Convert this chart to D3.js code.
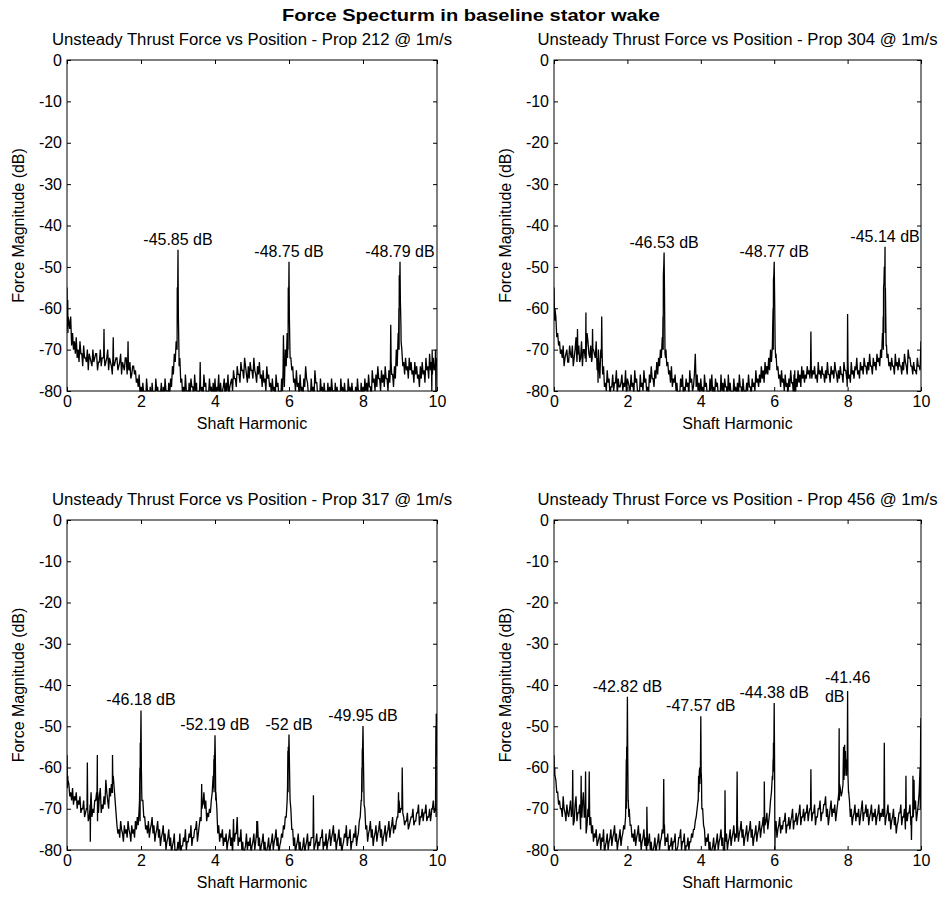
<!DOCTYPE html>
<html>
<head>
<meta charset="utf-8">
<script src="https://cdn.jsdelivr.net/npm/d3@7/dist/d3.min.js"></script>
<style>
  body { margin: 0; background: #fff; }
  text { font-family: "Liberation Sans", Arial, Helvetica, sans-serif; fill: #000; }
</style>
</head>
<body>
<svg id="chart" width="942" height="899"></svg>
<script>
// ---- chart text ----
const figureTitle = "Force Specturm in baseline stator wake";
const xLabel = "Shaft Harmonic";
const yLabel = "Force Magnitude (dB)";
const propNames = ["212", "304", "317", "456"];

// ---- axis ticks ----
const xTicks = [0, 2, 4, 6, 8, 10];
const yTicks = [0, -10, -20, -30, -40, -50, -60, -70, -80];
const xDomain = [0, 10];
const yDomain = [-80, 0];

// spectrum floor: "level" samples every 0.05 harmonic from 0 to 10,
// "mid" samples halfway between them (0.025, 0.075, ... 9.975)
const harmonicStep = 0.05;

const level212 = [
  -55,-63,-62,-66,-68,-67,-70,-68,-71,-69,-72,-70,-71,-73,-70,-72,-71,-73,-70,-72,
  -71,-73,-70,-72,-74,-71,-73,-72,-74,-71,-73,-75,-72,-74,-73,-76,-74,-75,-77,-76,
  -79,-78,-80,-77,-80,-79,-78,-80,-77,-79,-80,-78,-79,-77,-80,-78,-77,-74,-71,-68,
  -62,-72,-77,-79,-76,-80,-78,-77,-79,-76,-78,-80,-77,-79,-76,-78,-80,-77,-79,-78,
  -77,-79,-76,-78,-80,-77,-78,-76,-79,-77,-75,-77,-74,-76,-73,-75,-72,-76,-74,-73,
  -75,-72,-76,-74,-73,-76,-75,-77,-74,-76,-78,-77,-79,-76,-78,-80,-77,-75,-70,-66,
  -62,-72,-74,-77,-75,-78,-76,-79,-77,-74,-78,-80,-77,-79,-75,-78,-80,-77,-79,-78,
  -80,-78,-79,-77,-80,-78,-79,-80,-77,-79,-78,-80,-77,-79,-78,-80,-79,-77,-80,-78,
  -79,-77,-78,-76,-79,-75,-77,-76,-74,-77,-75,-76,-74,-77,-75,-73,-76,-74,-70,-66,
  -60,-70,-73,-72,-74,-72,-73,-75,-73,-74,-76,-74,-73,-75,-72,-74,-71,-73,-72,-74,
  -74
];
const mid212 = [
  -66,-65,-69,-70,-71,-72,-73,-71,-74,-72,-73,-75,-72,-74,-73,-71,-75,-73,-74,-72,
  -74,-72,-75,-73,-76,-74,-72,-75,-73,-76,-74,-72,-76,-75,-77,-74,-76,-78,-79,-81,
  -82,-81,-83,-80,-82,-84,-81,-83,-80,-82,-81,-84,-82,-80,-83,-81,-79,-76,-73,-70,
  -70,-78,-81,-82,-80,-83,-81,-79,-82,-80,-83,-81,-80,-82,-79,-83,-81,-80,-82,-81,
  -82,-80,-83,-81,-79,-82,-80,-81,-78,-80,-77,-79,-76,-78,-75,-77,-74,-78,-77,-75,
  -77,-75,-78,-76,-77,-79,-78,-80,-77,-79,-81,-80,-82,-79,-81,-83,-80,-79,-74,-70,
  -70,-75,-78,-80,-79,-81,-80,-82,-79,-77,-81,-83,-80,-82,-78,-81,-83,-80,-82,-81,
  -83,-81,-82,-80,-83,-81,-82,-84,-80,-82,-81,-83,-80,-82,-81,-83,-82,-80,-83,-81,
  -82,-80,-81,-79,-82,-78,-80,-79,-77,-80,-78,-79,-77,-80,-78,-76,-79,-77,-74,-70,
  -64,-74,-76,-75,-77,-75,-76,-78,-76,-77,-79,-77,-76,-78,-75,-77,-75,-76,-75,-77
];
const spikes212 = [
  [0.01,-65],[0.02,-58],[0.03,-62],[0.99,-72],[1.0,-65],[1.01,-72],[1.24,-72],[1.25,-67],[1.26,-73],
  [1.64,-73],[1.65,-68],[1.66,-74],[2.96,-70],[2.97,-68],[2.98,-55],[2.99,-58],[3.01,-62],[3.03,-74],
  [3.59,-78],[3.6,-73],[3.61,-79],[5.84,-75],[5.85,-66.5],[5.86,-73],[5.96,-72],[5.97,-68],[5.98,-55],
  [5.99,-60],[6.01,-62],[6.03,-72],[8.74,-74],[8.75,-64],[8.76,-73],[8.96,-70],[8.97,-60],[8.98,-52],
  [8.99,-56],[9.01,-58],[9.03,-68],[9.86,-80],[9.87,-70],[9.96,-70],[9.97,-80],[9.98,-72]
];
const peaks212 = [[3, -45.85], [6, -48.75], [9, -48.79]];

const level304 = [
  -55,-62,-66,-68,-70,-69,-72,-70,-73,-71,-69,-72,-67,-71,-73,-68,-70,-72,-66,-71,
  -69,-66,-71,-68,-72,-77,-67,-74,-78,-75,-77,-79,-76,-78,-75,-77,-79,-76,-78,-75,
  -77,-79,-76,-78,-75,-77,-80,-76,-78,-75,-77,-79,-76,-74,-77,-75,-73,-72,-70,-67,
  -62,-70,-73,-75,-74,-77,-76,-78,-80,-77,-76,-79,-77,-78,-75,-77,-79,-71,-76,-78,
  -77,-79,-76,-78,-80,-77,-76,-79,-77,-78,-80,-76,-78,-77,-79,-76,-78,-80,-77,-79,
  -78,-76,-79,-77,-80,-78,-76,-79,-77,-78,-75,-77,-76,-74,-75,-73,-74,-72,-70,-66,
  -61,-71,-74,-76,-75,-77,-76,-78,-77,-75,-78,-80,-77,-75,-76,-74,-75,-76,-74,-75,
  -73,-75,-74,-76,-73,-75,-74,-76,-75,-73,-76,-74,-75,-73,-76,-75,-74,-76,-73,-75,
  -74,-76,-73,-75,-74,-72,-75,-73,-74,-72,-74,-73,-71,-74,-72,-73,-71,-72,-70,-66,
  -58,-69,-71,-73,-72,-74,-71,-73,-72,-74,-73,-71,-74,-70,-72,-74,-73,-75,-72,-74,
  -68
];
const mid304 = [
  -60,-67,-69,-71,-72,-74,-71,-73,-69,-72,-74,-70,-73,-69,-72,-74,-70,-73,-68,-72,
  -73,-70,-72,-75,-73,-70,-76,-79,-80,-78,-81,-79,-80,-78,-81,-79,-78,-80,-79,-81,
  -78,-80,-79,-81,-78,-80,-82,-79,-80,-78,-80,-81,-78,-77,-79,-77,-76,-74,-72,-70,
  -71,-74,-76,-78,-79,-78,-80,-82,-81,-79,-81,-80,-79,-81,-78,-80,-76,-79,-80,-81,
  -80,-82,-79,-81,-82,-80,-81,-82,-79,-81,-82,-80,-81,-79,-82,-80,-81,-82,-80,-81,
  -81,-79,-82,-80,-81,-80,-79,-81,-79,-80,-78,-79,-78,-77,-78,-76,-76,-75,-73,-70,
  -69,-75,-77,-79,-78,-80,-79,-81,-79,-78,-81,-82,-79,-78,-79,-77,-78,-77,-76,-77,
  -77,-76,-77,-78,-76,-77,-76,-78,-77,-76,-78,-76,-77,-75,-78,-77,-76,-78,-75,-77,
  -77,-78,-76,-77,-75,-76,-77,-75,-76,-74,-76,-75,-74,-76,-74,-75,-73,-74,-72,-70,
  -66,-72,-74,-75,-74,-76,-74,-75,-74,-76,-75,-73,-76,-72,-74,-76,-75,-76,-74,-75
];
const spikes304 = [
  [0.01,-60],[0.02,-63],[0.63,-72],[0.64,-65],[0.66,-71],[0.86,-72],[0.87,-61],[0.88,-70],[1.04,-72],
  [1.05,-65],[1.06,-70],[1.19,-72],[1.2,-78],[1.21,-70],[1.29,-72],[1.3,-62],[1.31,-70],[2.96,-70],
  [2.97,-62],[2.98,-52],[2.99,-50],[3.01,-55],[3.02,-66],[3.04,-72],[5.95,-69],[5.96,-64],[5.97,-60],
  [5.98,-53],[5.99,-52],[6.01,-56],[6.02,-64],[6.04,-72],[6.54,-76],[6.55,-80],[6.56,-75],[6.99,-74],
  [7.0,-65.6],[7.01,-74],[7.98,-77],[7.99,-79],[8.0,-61.4],[8.01,-73],[8.96,-69],[8.97,-62],[8.98,-55],
  [8.99,-54],[9.0,-50],[9.01,-54],[9.03,-55],[9.04,-62],[9.06,-69]
];
const peaks304 = [[3, -46.53], [6, -48.77], [9.02, -45.14]];

const level317 = [
  -57,-64,-66,-65,-67,-66,-68,-67,-70,-68,-71,-69,-72,-66,-70,-68,-66,-71,-65,-69,
  -67,-63,-68,-65,-64,-62,-68,-74,-75,-73,-76,-74,-75,-73,-76,-74,-75,-73,-72,-70,
  -62,-68,-72,-74,-73,-75,-72,-74,-76,-73,-75,-77,-74,-76,-78,-75,-77,-79,-76,-80,
  -78,-76,-79,-77,-75,-78,-76,-74,-77,-75,-73,-76,-72,-70,-66,-68,-71,-70,-68,-62,
  -60,-70,-74,-76,-75,-77,-76,-78,-75,-77,-79,-76,-72,-77,-75,-78,-80,-76,-78,-77,
  -79,-76,-78,-73,-77,-79,-76,-78,-80,-77,-79,-76,-78,-75,-77,-79,-76,-74,-72,-68,
  -60,-70,-75,-77,-79,-76,-78,-80,-77,-79,-76,-78,-77,-75,-79,-76,-78,-77,-75,-78,
  -76,-78,-75,-77,-74,-76,-78,-75,-77,-79,-76,-74,-77,-75,-78,-76,-74,-77,-73,-68,
  -60,-70,-74,-76,-73,-75,-77,-74,-76,-73,-75,-77,-74,-76,-73,-75,-72,-74,-73,-70,
  -71,-66,-72,-73,-71,-74,-72,-70,-73,-71,-69,-72,-70,-71,-69,-72,-70,-71,-68,-70,
  -47
];
const mid317 = [
  -63,-67,-68,-69,-68,-70,-69,-71,-70,-72,-70,-73,-69,-72,-71,-68,-73,-67,-71,-70,
  -69,-66,-70,-67,-66,-65,-71,-76,-77,-75,-78,-76,-77,-75,-78,-76,-77,-75,-74,-73,
  -68,-72,-75,-76,-77,-74,-76,-78,-75,-77,-79,-76,-78,-80,-77,-79,-81,-78,-82,-80,
  -80,-81,-79,-78,-80,-78,-77,-79,-77,-75,-78,-74,-73,-69,-70,-73,-72,-71,-66,-66,
  -66,-76,-78,-77,-79,-78,-80,-77,-79,-81,-78,-76,-79,-78,-80,-82,-79,-80,-79,-81,
  -78,-80,-76,-79,-81,-78,-80,-82,-79,-81,-78,-80,-77,-79,-81,-78,-77,-75,-72,-66,
  -66,-75,-79,-81,-78,-80,-82,-79,-81,-78,-80,-79,-77,-80,-78,-80,-79,-77,-80,-79,
  -80,-77,-79,-76,-78,-80,-77,-79,-81,-78,-77,-79,-77,-80,-78,-77,-79,-76,-72,-66,
  -66,-75,-78,-75,-77,-79,-76,-78,-75,-77,-79,-76,-78,-75,-77,-74,-76,-75,-72,-68,
  -70,-71,-74,-73,-75,-73,-72,-74,-73,-71,-74,-72,-73,-71,-73,-72,-73,-70,-71,-72
];
const spikes317 = [
  [0.01,-65],[0.02,-62],[0.54,-70],[0.55,-58.8],[0.56,-70],[0.62,-70],[0.63,-78],[0.64,-68],[0.81,-68],
  [0.82,-57],[0.83,-66],[1.22,-66],[1.23,-57],[1.24,-64],[1.96,-68],[1.97,-60],[1.98,-54],[1.99,-55],
  [2.01,-60],[2.02,-66],[3.63,-70],[3.64,-64],[3.66,-69],[3.96,-65],[3.97,-58],[3.98,-57],[3.99,-58],
  [4.01,-58],[4.02,-68],[4.49,-76],[4.5,-72.5],[4.51,-76],[5.12,-76],[5.13,-73],[5.14,-77],[5.96,-65],
  [5.97,-56],[5.98,-55],[5.99,-57],[6.01,-58],[6.03,-68],[6.65,-77],[6.66,-66.7],[6.67,-76],[7.96,-68],
  [7.97,-60],[7.98,-56],[7.99,-55],[8.01,-57],[8.03,-69],[8.94,-72],[8.96,-66],[8.97,-71],[9.05,-70],
  [9.06,-60],[9.07,-67],[9.86,-70],[9.96,-70],[9.97,-50],[9.98,-47],[9.99,-57]
];
const peaks317 = [[2, -46.18], [4, -52.19], [6, -52], [8, -49.95]];

const level456 = [
  -57,-63,-66,-68,-70,-67,-71,-69,-72,-68,-70,-73,-67,-71,-69,-72,-66,-70,-74,-68,
  -72,-74,-76,-75,-78,-76,-77,-75,-79,-76,-78,-75,-77,-74,-76,-78,-75,-77,-74,-72,
  -60,-70,-74,-76,-75,-77,-74,-76,-78,-75,-77,-79,-76,-78,-80,-77,-79,-76,-78,-75,
  -74,-77,-76,-79,-77,-78,-76,-80,-77,-75,-78,-76,-79,-77,-78,-76,-75,-73,-70,-66,
  -62,-70,-75,-77,-76,-78,-80,-77,-79,-76,-78,-75,-77,-80,-76,-78,-75,-77,-74,-76,
  -74,-76,-73,-75,-77,-74,-76,-73,-75,-77,-74,-76,-73,-75,-72,-74,-71,-73,-68,-62,
  -58,-73,-75,-72,-74,-73,-71,-74,-72,-73,-70,-73,-71,-72,-69,-72,-70,-71,-69,-71,
  -68,-71,-69,-72,-70,-68,-71,-69,-67,-70,-72,-68,-70,-69,-71,-67,-65,-66,-63,-60,
  -62,-68,-70,-72,-69,-71,-70,-72,-68,-71,-69,-70,-72,-69,-71,-70,-72,-69,-71,-70,
  -70,-72,-69,-71,-73,-70,-72,-74,-71,-69,-72,-70,-73,-71,-69,-72,-70,-68,-71,-66,
  -48
];
const mid456 = [
  -62,-66,-69,-70,-72,-70,-73,-71,-70,-72,-74,-69,-73,-71,-75,-69,-72,-76,-70,-74,
  -76,-78,-77,-79,-77,-80,-78,-81,-78,-80,-77,-79,-76,-78,-80,-77,-79,-76,-75,-70,
  -68,-74,-77,-78,-79,-76,-78,-80,-77,-79,-81,-78,-80,-82,-79,-81,-78,-80,-77,-76,
  -79,-78,-81,-79,-80,-78,-82,-79,-77,-80,-78,-81,-79,-80,-78,-77,-75,-72,-68,-64,
  -68,-74,-79,-78,-80,-82,-79,-81,-78,-80,-77,-79,-82,-78,-80,-77,-79,-76,-78,-77,
  -78,-75,-77,-79,-76,-78,-75,-77,-79,-76,-78,-75,-77,-74,-76,-73,-75,-71,-66,-61,
  -76,-77,-74,-76,-75,-73,-76,-74,-75,-72,-75,-73,-74,-71,-74,-72,-73,-71,-73,-70,
  -73,-71,-74,-72,-70,-73,-71,-69,-72,-74,-70,-72,-71,-73,-69,-68,-67,-64,-62,-60,
  -66,-72,-74,-71,-73,-72,-74,-70,-73,-71,-72,-74,-71,-73,-72,-74,-71,-73,-72,-72,
  -74,-71,-73,-75,-72,-74,-76,-73,-71,-74,-72,-75,-73,-71,-74,-72,-70,-73,-69,-60
];
const spikes456 = [
  [0.01,-62],[0.02,-60],[0.51,-60.6],[0.52,-70],[0.73,-70],[0.74,-62],[0.76,-72],[0.84,-72],[0.86,-61],
  [0.87,-71],[0.94,-72],[0.96,-61],[0.97,-70],[1.96,-66],[1.97,-58],[1.98,-55],[1.99,-56],[2.01,-58],
  [2.02,-68],[2.04,-72],[2.53,-69.5],[2.54,-75],[2.99,-62.8],[3.01,-74],[3.93,-68],[3.94,-62],[3.96,-61],
  [3.97,-60],[3.98,-62],[3.99,-60],[4.01,-61],[4.02,-63],[4.03,-70],[4.66,-65.5],[4.67,-76],[4.99,-61],
  [5.01,-75],[5.73,-63.4],[5.74,-72],[5.96,-63],[5.97,-58],[5.98,-54],[5.99,-56],[6.01,-58],[6.02,-80],
  [6.03,-74],[6.99,-70],[7.0,-60.4],[7.01,-70],[7.76,-66],[7.77,-50.5],[7.78,-64],[7.88,-60],[7.89,-55],
  [7.91,-57],[7.92,-54.5],[7.93,-58],[7.94,-56],[7.96,-59],[7.97,-62],[7.98,-58],[7.99,-60],[8.01,-62],
  [8.03,-66],[8.99,-70],[9.0,-54],[9.01,-70],[9.58,-72],[9.59,-62],[9.61,-71],[9.73,-72],[9.74,-77.6],
  [9.76,-72],[9.78,-62],[9.79,-72],[9.81,-63],[9.82,-70],[9.98,-70],[9.99,-52]
];
const peaks456 = [[2, -42.82], [4, -47.57], [6, -44.38], [8, -41.46]];

// ---- layout ----
const W = 942, H = 899;
const colX = [[67, 437], [554, 921]];
const rowY = [[60, 391], [520, 850]];
const FS = 16;

const panels = [
  { prop: propNames[0], level: level212, mid: mid212, spikes: spikes212, peaks: peaks212, col: 0, row: 0 },
  { prop: propNames[1], level: level304, mid: mid304, spikes: spikes304, peaks: peaks304, col: 1, row: 0 },
  { prop: propNames[2], level: level317, mid: mid317, spikes: spikes317, peaks: peaks317, col: 0, row: 1 },
  { prop: propNames[3], level: level456, mid: mid456, spikes: spikes456, peaks: peaks456, col: 1, row: 1 }
];
// the last Prop 456 annotation is written on two lines
const splitLabels = { "456": [3] };

// merge floor samples, narrow spikes and harmonic peaks into one trace (keyed by 0.001 harmonic)
function buildTrace(p) {
  const pts = new Map();
  const put = (h, v) => pts.set(Math.round(h * 1000), [h, v]);
  p.level.forEach((v, i) => put(i * harmonicStep, v));
  p.mid.forEach((v, i) => put((i + 0.5) * harmonicStep, v));
  p.spikes.concat(p.peaks).forEach(([h, v]) => put(h, v));
  return Array.from(pts.values()).sort((a, b) => a[0] - b[0]);
}

const svg = d3.select("#chart");
svg.append("rect").attr("width", W).attr("height", H).attr("fill", "#fff");

svg.append("text")
  .attr("x", 471).attr("y", 21)
  .attr("text-anchor", "middle")
  .attr("font-size", 17).attr("font-weight", "bold")
  .attr("textLength", 378).attr("lengthAdjust", "spacingAndGlyphs")
  .text(figureTitle);

const plainNumber = d => String(d);

panels.forEach((p, idx) => {
  const [x0, x1] = colX[p.col];
  const [y0, y1] = rowY[p.row];
  const x = d3.scaleLinear().domain(xDomain).range([x0, x1]);
  const y = d3.scaleLinear().domain(yDomain).range([y1, y0]);
  const g = svg.append("g");

  const clipId = "clip" + idx;
  g.append("clipPath").attr("id", clipId)
    .append("rect").attr("x", x0).attr("y", y0 - 1).attr("width", x1 - x0).attr("height", y1 - y0 + 1.5);

  // spectrum trace
  g.append("path")
    .datum(buildTrace(p))
    .attr("clip-path", `url(#${clipId})`)
    .attr("fill", "none").attr("stroke", "#000").attr("stroke-width", 1.3)
    .attr("d", d3.line().x(d => x(d[0])).y(d => y(d[1])));

  // axes with inward ticks, mirrored on top and right
  const styleAxis = sel => {
    sel.select(".domain").remove();
    sel.selectAll(".tick line").attr("stroke", "#000");
    sel.selectAll("text").attr("font-size", FS).attr("font-family", null);
  };
  g.append("g").attr("transform", `translate(0,${y1})`)
    .call(d3.axisBottom(x).tickValues(xTicks).tickFormat(plainNumber).tickSizeInner(-4).tickSizeOuter(0).tickPadding(5))
    .call(styleAxis);
  g.append("g").attr("transform", `translate(0,${y0})`)
    .call(d3.axisTop(x).tickValues(xTicks).tickSizeInner(-4).tickSizeOuter(0).tickFormat(""))
    .call(styleAxis);
  g.append("g").attr("transform", `translate(${x0},0)`)
    .call(d3.axisLeft(y).tickValues(yTicks).tickFormat(plainNumber).tickSizeInner(-4).tickSizeOuter(0).tickPadding(5))
    .call(styleAxis);
  g.append("g").attr("transform", `translate(${x1},0)`)
    .call(d3.axisRight(y).tickValues(yTicks).tickSizeInner(-4).tickSizeOuter(0).tickFormat(""))
    .call(styleAxis);

  g.append("rect")
    .attr("x", x0).attr("y", y0).attr("width", x1 - x0).attr("height", y1 - y0)
    .attr("fill", "none").attr("stroke", "#000").attr("stroke-width", 1);

  // titles and axis labels
  g.append("text")
    .attr("x", (x0 + x1) / 2).attr("y", y0 - 15)
    .attr("text-anchor", "middle").attr("font-size", FS)
    .attr("textLength", 400).attr("lengthAdjust", "spacingAndGlyphs")
    .text(`Unsteady Thrust Force vs Position - Prop ${p.prop} @ 1m/s`);
  g.append("text")
    .attr("x", (x0 + x1) / 2).attr("y", y1 + 38)
    .attr("text-anchor", "middle").attr("font-size", FS)
    .text(xLabel);
  g.append("text")
    .attr("transform", `translate(${x0 - 43},${(y0 + y1) / 2}) rotate(-90)`)
    .attr("text-anchor", "middle").attr("font-size", FS)
    .text(yLabel);

  // peak annotations
  const split = splitLabels[p.prop] || [];
  p.peaks.forEach(([h, v], k) => {
    const label = `${v} dB`;
    if (split.includes(k)) {
      const parts = label.split(" ");
      const t1 = g.append("text")
        .attr("x", x(h)).attr("y", y(v) - 8)
        .attr("text-anchor", "middle").attr("font-size", FS)
        .text(parts[0]);
      const left = x(h) - t1.node().getComputedTextLength() / 2;
      g.append("text")
        .attr("x", left).attr("y", y(v) + 11)
        .attr("font-size", FS)
        .text(parts[1]);
    } else {
      g.append("text")
        .attr("x", x(h)).attr("y", y(v) - 5)
        .attr("text-anchor", "middle").attr("font-size", FS)
        .text(label);
    }
  });
});
</script>
</body>
</html>
